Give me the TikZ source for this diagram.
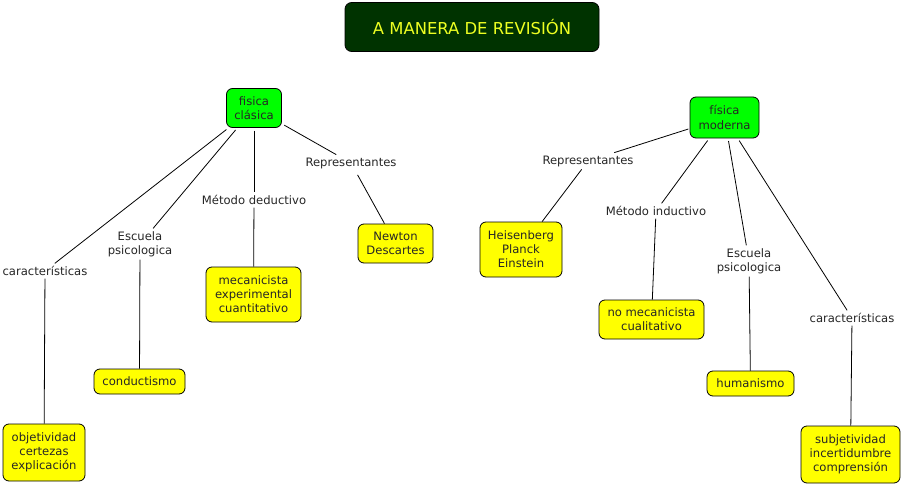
\documentclass[tikz,border=0pt]{standalone}
\usepackage{fontspec}
\setmainfont{DejaVu Sans}
\definecolor{titlebg}{HTML}{003300}
\definecolor{titletx}{HTML}{EEFF22}
\definecolor{boxgreen}{HTML}{00FF00}
\definecolor{boxyellow}{HTML}{FFFF00}
\begin{document}
\begin{tikzpicture}[x=0.75pt,y=-0.75pt,
  every node/.style={font=\fontsize{8.7}{10.6}\selectfont, align=center},
  concept/.style={draw=black, line width=0.6pt, rounded corners=4.5pt, inner sep=1pt, text=black!85},
  greenbox/.style={concept, fill=boxgreen},
  yellowbox/.style={concept, fill=boxyellow},
  linklabel/.style={inner sep=2pt, text=black!85},
  link/.style={draw=black, line width=0.6pt}]
\useasboundingbox (0,0) rectangle (903,485);
\fill[white] (0,0) rectangle (903,485);

\node[draw=black, line width=0.6pt, fill=titlebg, rounded corners=5pt, text=titletx,
      minimum width=190.5pt, minimum height=36.75pt, font=\fontsize{12.3}{14}\selectfont]
      (title) at (472,27) {A MANERA DE REVISIÓN};

% left
\node[greenbox, minimum width=41.25pt, minimum height=29.25pt] (fc) at (254,108) {fisica\\clásica};
\node[linklabel] (repL) at (351,163) {Representantes};
\node[yellowbox, minimum width=56.25pt, minimum height=29.25pt] (newton) at (395.5,243.5) {Newton\\Descartes};
\node[linklabel] (metD) at (254,200) {Método deductivo};
\node[yellowbox, minimum width=71.25pt, minimum height=41.25pt] (mec) at (253.5,294.5) {mecanicista\\experimental\\cuantitativo};
\node[linklabel] (escL) at (140,244) {Escuela\\psicologica};
\node[yellowbox, minimum width=68.25pt, minimum height=18.75pt] (cond) at (139.5,381.5) {conductismo};
\node[linklabel] (carL) at (45,271) {características};
\node[yellowbox, minimum width=61.5pt, minimum height=42.75pt] (obj) at (44,452.5) {objetividad\\certezas\\explicación};

% right
\node[greenbox, minimum width=51.75pt, minimum height=30.75pt] (fm) at (724.5,117.5) {física\\moderna};
\node[linklabel] (repR) at (588,161) {Representantes};
\node[yellowbox, minimum width=61.5pt, minimum height=41.25pt] (heis) at (521,249.5) {Heisenberg\\Planck\\Einstein};
\node[linklabel] (metI) at (656,211) {Método inductivo};
\node[yellowbox, minimum width=78.75pt, minimum height=29.25pt] (nomec) at (651.5,319.5) {no mecanicista\\cualitativo};
\node[linklabel] (escR) at (749,261) {Escuela\\psicologica};
\node[yellowbox, minimum width=65.25pt, minimum height=18.75pt] (hum) at (750.5,383.5) {humanismo};
\node[linklabel] (carR) at (852,318) {características};
\node[yellowbox, minimum width=74.25pt, minimum height=42.75pt] (subj) at (850.5,454.5) {subjetividad\\incertidumbre\\comprensión};

% connectors left
\draw[link, shorten <=2pt] (fc) -- (repL);
\draw[link, shorten <=3pt] (repL) -- (newton);
\draw[link, shorten <=2pt] (fc) -- (metD);
\draw[link] (metD) -- (mec);
\draw[link, shorten <=2pt] (fc) -- (escL);
\draw[link] (escL) -- (cond);
\draw[link, shorten <=2pt] (fc) -- (carL);
\draw[link] (carL) -- (obj);

% connectors right
\draw[link, shorten <=1pt] (fm) -- (repR);
\draw[link] (repR) -- (heis);
\draw[link, shorten <=2pt] (fm) -- (metI);
\draw[link] (metI) -- (nomec);
\draw[link, shorten <=2pt] (fm) -- (escR);
\draw[link] (escR) -- (hum);
\draw[link, shorten <=2pt] (fm) -- (carR);
\draw[link] (carR) -- (subj);
\end{tikzpicture}
\end{document}
